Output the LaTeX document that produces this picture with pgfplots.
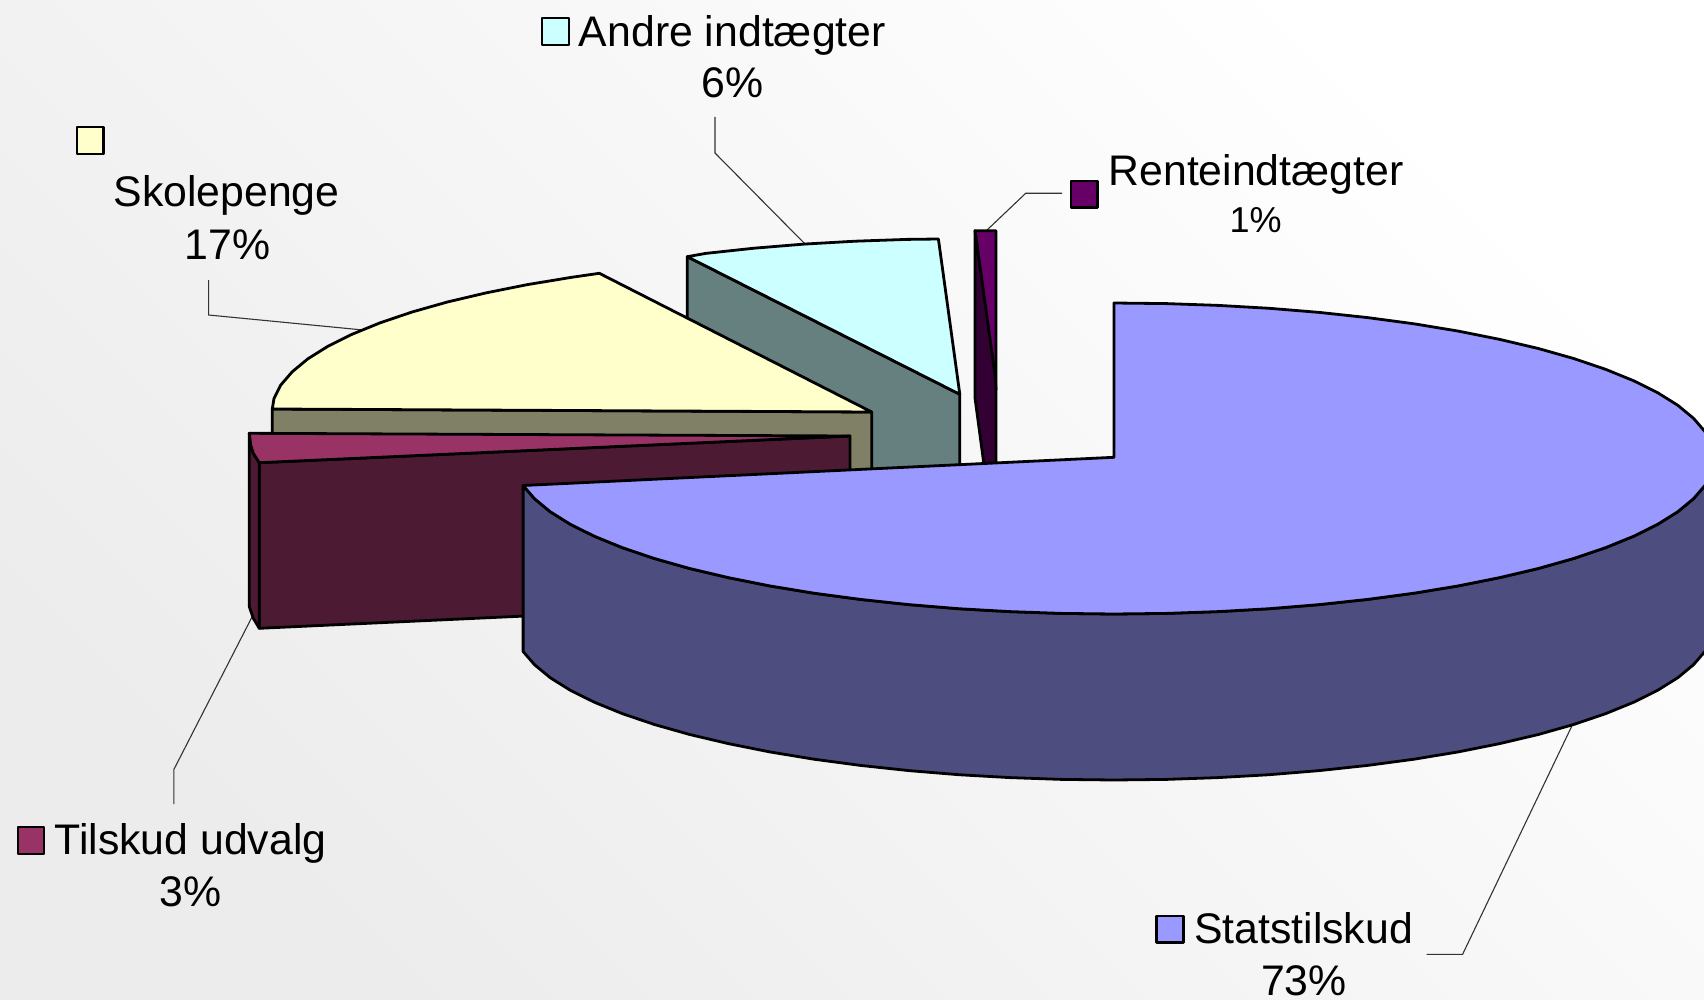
\documentclass[border=0pt]{standalone}
\usepackage{pgfplots}
\pgfplotsset{compat=1.18}
\usepackage{fontspec}
\setmainfont{Liberation Sans}
\definecolor{statT}{HTML}{9999FF}\definecolor{statS}{HTML}{4D4D80}
\definecolor{skoT}{HTML}{FFFFCC}\definecolor{skoS}{HTML}{808066}
\definecolor{andT}{HTML}{CCFFFF}\definecolor{andS}{HTML}{668080}
\definecolor{renT}{HTML}{660066}\definecolor{renS}{HTML}{330033}
\definecolor{tilT}{HTML}{993366}\definecolor{tilS}{HTML}{4D1A33}
\definecolor{bgdark}{HTML}{ECECEC}
\newcommand{\lab}{\fontsize{42.8}{52}\selectfont}
\begin{document}
\begin{tikzpicture}
\begin{axis}[scale only axis,width=1704pt,height=1000pt,xmin=0,xmax=1704,ymin=0,ymax=1000,y dir=reverse,hide axis,
  every axis plot/.append style={mark=none,line join=round,draw=black,line width=2.8pt},
  swatch/.style={line width=2.6pt},
  leader/.style={line width=1.1pt,draw=black!80,fill=none,line join=miter}]
% background
\addplot[draw=none,top color=white,bottom color=bgdark,shading angle=-45] coordinates {(0,0)(1704,0)(1704,1000)(0,1000)} -- cycle;
% leaders
\addplot[leader] coordinates {(715,117)(715,153)(805,244)};
\addplot[leader] coordinates {(208.6,280)(208.6,315)(363,330)};
\addplot[leader] coordinates {(1062,193.3)(1025.7,193.3)(986,231)};
\addplot[leader] coordinates {(173.9,804)(173.9,769.4)(252,617)};
\addplot[leader] coordinates {(1426.6,954.3)(1462.6,954.3)(1572.8,724)};
% Andre indtaegter
\addplot[fill=andS] coordinates {(687.3,256.7)(959.8,394.3)(959.8,480)(687.3,480)} -- cycle;
\addplot[fill=andT] coordinates {(687.3,256.7)(705.7,253.4)(754.1,248.2)(804,244.1)(855.1,241.2)(907,239.4)(938.4,239)(959.8,394.3)} -- cycle;
% Skolepenge
\addplot[fill=skoS] coordinates {(272.3,409)(871.7,412)(871.7,480)(272.3,480)} -- cycle;
\addplot[fill=skoT] coordinates {(272.3,409)(274,398.4)(280.8,385)(292.2,371.8)(307.9,358.8)(327.9,346.3)(352.1,334.25)(380.2,322.8)(412.1,312)(447.4,302)(486,292.9)(527.5,284.6)(571.7,277.3)(599.3,273.3)(871.7,412)} -- cycle;
% Tilskud udvalg
\addplot[fill=tilS] coordinates {(259.3,462.7)(850,436)(850,601)(259.3,628.3)} -- cycle;
\addplot[fill=tilS] coordinates {(249.3,433.3)(250.7,445)(253.3,453.3)(259.3,462.7)(259.3,628.3)(253.3,618.3)(249.3,606.7)} -- cycle;
\addplot[fill=tilT] coordinates {(249.3,433.3)(850,436)(259.3,462.7)(253.3,453.3)(250.7,445)} -- cycle;
% Renteindtaegter
\addplot[fill=renT] coordinates {(975,230.7)(996,230.7)(996,390)} -- cycle;
\addplot[fill=renS] coordinates {(975,230.7)(995,375)(996,390)(996,465)(984,465)(975,398)} -- cycle;
% Statstilskud
\addplot[fill=statS] coordinates {(1714,458.5)(1711.7,472.1)(1704.9,485.5)(1693.5,498.7)(1677.8,511.7)(1657.8,524.2)(1633.6,536.25)(1605.5,547.7)(1573.6,558.5)(1538.3,568.5)(1499.7,577.6)(1458.2,585.9)(1414,593.2)(1367.6,599.4)(1319.2,604.6)(1269.3,608.7)(1218.2,611.6)(1166.3,613.4)(1114,614)(1061.7,613.4)(1009.8,611.6)(958.7,608.7)(908.8,604.6)(860.4,599.4)(814,593.2)(769.8,585.9)(728.3,577.6)(689.7,568.5)(654.4,558.5)(622.5,547.7)(594.4,536.25)(570.2,524.2)(550.2,511.7)(534.5,498.7)(523.1,485.5)
(523.1,651.5)(534.5,664.7)(550.2,677.7)(570.2,690.2)(594.4,702.25)(622.5,713.7)(654.4,724.5)(689.7,734.5)(728.3,743.6)(769.8,751.9)(814,759.2)(860.4,765.4)(908.8,770.6)(958.7,774.7)(1009.8,777.6)(1061.7,779.4)(1114,780)(1166.3,779.4)(1218.2,777.6)(1269.3,774.7)(1319.2,770.6)(1367.6,765.4)(1414,759.2)(1458.2,751.9)(1499.7,743.6)(1538.3,734.5)(1573.6,724.5)(1605.5,713.7)(1633.6,702.25)(1657.8,690.2)(1677.8,677.7)(1693.5,664.7)(1704.9,651.5)(1711.7,638.1)(1714,624.5)} -- cycle;
\addplot[fill=statT] coordinates {(1114,303)(1166.3,303.6)(1218.2,305.4)(1269.3,308.3)(1319.2,312.4)(1367.6,317.6)(1414,323.8)(1458.2,331.1)(1499.7,339.4)(1538.3,348.5)(1573.6,358.5)(1605.5,369.3)(1633.6,380.75)(1657.8,392.8)(1677.8,405.3)(1693.5,418.3)(1704.9,431.5)(1711.7,444.9)(1714,458.5)(1711.7,472.1)(1704.9,485.5)(1693.5,498.7)(1677.8,511.7)(1657.8,524.2)(1633.6,536.25)(1605.5,547.7)(1573.6,558.5)(1538.3,568.5)(1499.7,577.6)(1458.2,585.9)(1414,593.2)(1367.6,599.4)(1319.2,604.6)(1269.3,608.7)(1218.2,611.6)(1166.3,613.4)(1114,614)(1061.7,613.4)(1009.8,611.6)(958.7,608.7)(908.8,604.6)(860.4,599.4)(814,593.2)(769.8,585.9)(728.3,577.6)(689.7,568.5)(654.4,558.5)(622.5,547.7)(594.4,536.25)(570.2,524.2)(550.2,511.7)(534.5,498.7)(523.1,485.5)(1114,457.3)} -- cycle;
% swatches
\addplot[swatch,fill=andT] coordinates {(542,18)(569,18)(569,45)(542,45)} -- cycle;
\addplot[swatch,fill=skoT] coordinates {(77,127)(103.5,127)(103.5,154)(77,154)} -- cycle;
\addplot[swatch,fill=renT] coordinates {(1071,181)(1097.5,181)(1097.5,207.7)(1071,207.7)} -- cycle;
\addplot[swatch,fill=tilT] coordinates {(18,827)(44,827)(44,854)(18,854)} -- cycle;
\addplot[swatch,fill=statT] coordinates {(1156.5,916)(1183.5,916)(1183.5,942.7)(1156.5,942.7)} -- cycle;
% labels
\node[anchor=base,inner sep=0pt] at (axis cs:732.4,46.5) {\lab Andre indtægter};
\node[anchor=base,inner sep=0pt] at (axis cs:732.4,98) {\lab 6\%};
\node[anchor=base,inner sep=0pt] at (axis cs:226.5,207) {\lab Skolepenge};
\node[anchor=base,inner sep=0pt] at (axis cs:227.5,260) {\lab 17\%};
\node[anchor=base,inner sep=0pt] at (axis cs:1256,186) {\lab Renteindtægter};
\node[anchor=base,inner sep=0pt] at (axis cs:1255.5,232.5) {\fontsize{36}{44}\selectfont 1\%};
\node[anchor=base,inner sep=0pt] at (axis cs:190.5,854) {\lab Tilskud udvalg};
\node[anchor=base,inner sep=0pt] at (axis cs:190.5,906) {\lab 3\%};
\node[anchor=base,inner sep=0pt] at (axis cs:1303.5,943) {\lab Statstilskud};
\node[anchor=base,inner sep=0pt] at (axis cs:1304,995) {\lab 73\%};
\end{axis}
\end{tikzpicture}
\end{document}
